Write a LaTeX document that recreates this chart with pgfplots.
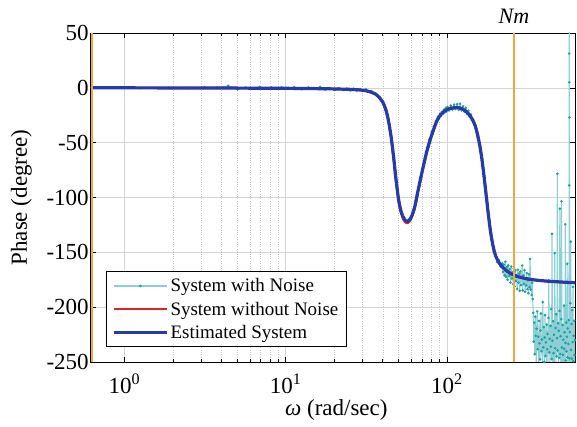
\documentclass[border=0pt]{standalone}
\usepackage{pgfplots}
\pgfplotsset{compat=1.18}
\usepackage{pgfplotstable}
\usepackage{fontspec}
\setmainfont{Liberation Serif}
\usetikzlibrary{calc}

\definecolor{noiseline}{RGB}{140,208,214}
\definecolor{noisemark}{RGB}{38,160,158}
\definecolor{estblue}{RGB}{38,58,168}
\definecolor{truered}{RGB}{222,36,40}
\definecolor{nmorange}{RGB}{240,168,58}
\definecolor{gridgray}{RGB}{212,212,212}

% estimated model phase (deg) vs frequency (rad/s)
\pgfplotstableread{
w phase
0.62 0
1 0
2 -0.1
5 -0.25
10 -0.45
15 -0.7
20 -1.0
25 -1.4
28 -1.8
30 -2.2
32 -2.9
34 -4.0
36 -5.6
38 -8.5
40 -13
41 -16.5
42 -21
43 -27
44 -35
45 -44
46 -55
47 -67
48 -80
49 -91
50 -101
51 -108
52 -113
53 -116.5
54 -119
55 -120.6
56 -121.4
57 -121.6
58 -121
59 -119.8
60 -118
61 -115.5
62 -112.5
63 -109
64 -104.5
65 -99.5
66 -94.5
67 -90
68 -85.5
70 -77
72.5 -67
75 -58
78 -49
80 -44
82 -39.5
84 -35
86 -31
88 -28
90 -25.8
93 -23.3
96 -21.5
100 -19.8
105 -18.7
110 -18.2
115 -18
120 -18.3
125 -19.3
130 -21
135 -23.2
140 -26
145 -29.8
150 -35
155 -43
160 -53
164 -63
168 -75
172 -88
176 -101
180 -114
184 -125.5
188 -135
192 -142.5
196 -148.5
200 -153
205 -156.5
212 -160.3
222 -163.8
235 -167
250 -169.6
270 -171.8
300 -173.6
330 -174.7
370 -175.6
420 -176.3
500 -177
560 -177.4
640 -177.8
}\estimated

% true system phase
\pgfplotstableread{
w phase
0.62 0
1 0
2 -0.1
5 -0.25
10 -0.45
15 -0.7
20 -1.0
25 -1.4
28 -1.8
30 -2.2
32 -2.9
34 -4.0
36 -5.7
38 -8.7
40 -13.3
41 -17
42 -21.5
43 -27.6
44 -35.7
45 -44.8
46 -56
47 -68
48 -81
49 -92.2
50 -102.3
51 -109.5
52 -114.6
53 -118.2
54 -120.8
55 -122.4
56 -123.2
57 -123.3
58 -122.6
59 -121.2
60 -119.3
61 -116.7
62 -113.6
63 -110
64 -105.4
65 -100.3
66 -95.2
67 -90.6
68 -86
70 -77.4
72.5 -67.3
75 -58.2
78 -49.2
80 -44.1
82 -39.6
84 -35.1
86 -31.1
88 -28.1
90 -25.9
93 -23.4
96 -21.6
100 -19.9
105 -18.8
110 -18.3
115 -18.1
120 -18.4
125 -19.4
130 -21.1
135 -23.3
140 -26.1
145 -29.9
150 -35.1
155 -43.1
160 -53.1
164 -63.1
168 -75.1
172 -88.1
176 -101.1
180 -114.1
184 -125.6
188 -135.1
192 -142.6
196 -148.6
200 -153.1
205 -156.6
212 -160.4
222 -163.9
235 -167.1
250 -169.7
270 -171.9
300 -173.7
330 -174.8
370 -175.7
420 -176.4
500 -177.1
560 -177.5
640 -177.9
}\truesys

% measured phase with noise
\pgfplotstableread{
w phase
0.628 0.3
1.257 -0.2
1.885 0.1
2.513 -0.3
3.142 0.4
3.770 0.2
4.398 1.8
5.027 -1.5
5.655 0.3
6.283 -0.4
6.912 0.9
7.540 -0.6
8.168 0.2
8.796 -0.8
9.425 0.5
10.05 -0.3
11.31 0.6
12.57 -1.2
13.82 0.4
15.08 -0.9
16.34 0.8
17.59 -1.7
18.85 -0.2
20.11 -1.9
21.36 -0.5
22.62 -2.1
23.88 -0.7
25.13 -2.3
26.39 -0.9
27.65 -2.4
28.90 -1.2
30.16 -2.5
31.42 -1.3
32.67 -3.4
33.93 -3.0
35.19 -5.3
36.44 -5.9
37.70 -8.7
38.96 -10.2
40.21 -14.8
41.47 -18.5
42.73 -25.8
43.98 -35.8
45.24 -46.5
46.50 -60.3
47.75 -77.5
49.01 -91.8
50.27 -103.5
51.52 -110.6
52.78 -115.1
54.04 -118.1
55.29 -121.4
56.55 -122.8
57.81 -121.9
59.06 -119.3
60.32 -117.1
61.58 -112.5
62.83 -110.9
64.09 -102.6
65.35 -98.2
66.60 -92.3
67.86 -85.9
69.12 -81.2
70.37 -74.7
71.63 -69.8
72.88 -66.3
74.14 -59.2
75.40 -54.4
76.65 -53.2
77.91 -47.1
79.17 -46.3
80.42 -40.1
81.68 -39.5
82.94 -35.2
84.19 -34.6
85.45 -30.3
86.71 -30.9
87.96 -26.5
89.22 -27.8
90.48 -23.9
91.73 -25.6
92.99 -22.1
94.25 -23.7
95.50 -20.3
96.76 -22.5
98.02 -18.6
99.27 -21.4
100.5 -17.5
103.0 -20.6
105.6 -16.2
108.1 -19.8
110.6 -15.4
113.1 -19.2
115.6 -15.0
118.1 -19.9
120.6 -14.6
123.2 -20.5
125.7 -16.8
128.2 -21.7
130.7 -18.3
133.2 -23.8
135.7 -20.9
138.2 -26.4
140.7 -24.3
143.3 -29.6
145.8 -31.2
148.3 -33.9
150 -34.2
155 -44.8
160 -52.1
165 -66.0
170 -80.6
175 -98.2
180 -112.7
185 -129.4
190 -138.6
195 -149.5
200 -152.3
205 -158.9
210 -157.2
215 -163.0
220 -160.1
222.5 -167.8
225 -161.2
227.5 -170.9
230 -158.6
232.5 -172.3
235 -163.4
237.5 -175.0
240 -161.9
242.5 -171.8
245 -165.2
247.5 -177.6
250 -163.0
252.5 -173.9
255 -168.1
257.5 -179.3
260 -164.7
262.5 -181.0
265 -166.5
267.5 -176.2
270 -170.8
272.5 -183.4
275 -165.9
277.5 -177.7
280 -169.3
282.5 -185.2
285 -167.4
287.5 -179.9
290 -172.6
292.5 -162.1
295 -184.7
297.5 -171.0
300 -178.8
302.5 -166.3
305 -186.0
307.5 -173.5
310 -180.2
312.5 -168.9
315 -183.6
317.5 -175.4
320 -187.3
322.5 -170.1
325 -181.7
327.5 -156.0
330 -183.9
332.5 -174.2
335 -189.0
337.5 -177.8
340 -192.5
342.5 -205.2
345 -231.4
347.5 -214.0
350 -242.8
352.5 -208.6
355 -226.1
357.5 -251.3
360 -219.7
362.5 -203.9
365 -238.4
367.5 -226.9
370 -258.2
372.5 -212.5
375 -233.0
377.5 -247.6
380 -221.3
382.5 -205.8
385 -240.1
387.5 -229.5
390 -262.0
393 -195.4
395.5 -236.7
398 -218.2
400.5 -249.9
403 -227.6
405.5 -207.3
408 -244.5
410.5 -232.1
413 -256.8
415.5 -215.9
418 -238.3
420.5 -224.4
423 -253.7
425.5 -209.8
428 -175.6
430.5 -241.2
433 -228.9
435.5 -263.5
438 -217.1
440.5 -236.0
443 -201.7
445.5 -247.3
448 -133.2
450.5 -230.6
453 -255.4
455.5 -212.8
458 -241.9
460.5 -225.2
463 -259.6
466 -150.8
468.5 -237.4
471 -219.0
473.5 -252.5
476 -206.4
478.5 -244.8
481 -228.3
483.5 -78.4
486 -239.5
488.5 -214.7
491 -258.9
493.5 -221.6
496 -246.2
498.5 -203.3
501 -110.2
503.5 -242.7
506 -226.5
508.5 -264.1
511 -210.9
513.5 -103.5
516 -236.8
518.5 -251.0
521 -216.3
523.5 -243.4
526 -229.7
528.5 -260.3
531 -198.6
533.5 -238.1
536 -222.9
538.5 -254.2
541 -124.4
543.5 -232.6
546 -248.7
548.5 -214.1
551 -240.3
553.5 -227.0
556 -160.5
558.5 -245.8
561 -219.4
563.5 -257.3
566 -233.5
568.5 -211.8
571 -251.6
572 31.2
572.6 -89.0
573.2 60.0
573.8 5.0
574.4 -27.0
575 -246.4
577.5 -222.7
580 -258.0
582.5 -196.4
585 -140.2
587.5 -238.9
590 -260.7
592.5 -215.3
595 -247.1
597.5 -202.6
600 -262.4
602.5 -231.8
605 -181.5
607.5 -249.3
610 -226.0
612.5 -265.0
615 -212.4
617.5 -243.7
620 -255.8
622 -230.1
}\measured

\begin{document}
\begin{tikzpicture}
\begin{axis}[
  scale only axis,
  width=484.1pt, height=329pt,
  xmode=log,
  xmin=0.62, xmax=622,
  ymin=-250, ymax=50,
  clip mode=individual,
  ytick={-250,-200,-150,-100,-50,0,50},
  xtick={1,10,100},
  xticklabels={10\textsuperscript{0},10\textsuperscript{1},10\textsuperscript{2}},
  /pgf/number format/assume math mode=true,
  tick align=inside,
  major tick length=5pt,
  minor tick length=3pt,
  tick style={black, line width=0.6pt},
  axis line style={black, line width=0.8pt},
  xmajorgrids, ymajorgrids, xminorgrids,
  major grid style={gridgray, line width=0.6pt},
  minor grid style={gray!45, dotted, line width=0.5pt},
  ticklabel style={font=\fontsize{23}{26}\selectfont},
  yticklabel style={inner sep=1pt, xshift=-1pt},
  xticklabel style={inner sep=0pt, yshift=-12pt},
  every axis y label/.style={at={(axis description cs:-0.1434,0.5)}, rotate=90, anchor=center},
  every axis x label/.style={at={(axis description cs:0.507,-0.164)}, anchor=base},
  label style={font=\fontsize{23}{26}\selectfont},
  ylabel={Phase (degree)},
  xlabel={\textit{ω} (rad/sec)},
  legend cell align=left,
  legend style={at={(axis description cs:0.0312,0.0456)}, anchor=south west,
    draw=black, line width=0.6pt, fill=white,
    font=\fontsize{19}{22}\selectfont,
    inner xsep=6pt, inner ysep=5pt, row sep=4.5pt},
  legend image code/.code={\draw[#1, mark repeat=2, mark phase=2]
    plot coordinates {(0pt,0pt) (26.5pt,0pt) (53pt,0pt)};},
]
\addplot[noiseline, line width=1.1pt, mark=*, mark size=0.7pt,
  mark options={noisemark, draw=noisemark, fill=noisemark}] table[x=w, y=phase] {\measured};
\addlegendentry{System with Noise}
\addplot[truered, line width=2.2pt] table[x=w, y=phase] {\truesys};
\addlegendentry{System without Noise}
\addplot[estblue, line width=3.2pt] table[x=w, y=phase] {\estimated};
\addlegendentry{Estimated System}
% frequency markers
\addplot[nmorange, line width=1.6pt, forget plot] coordinates {(0.6283,-250) (0.6283,50)};
\addplot[nmorange, line width=1.6pt, forget plot] coordinates {(260,-250) (260,50)};
\coordinate (nm) at (axis cs:260,50);
\coordinate (bl) at (rel axis cs:0,0);
\coordinate (tr) at (rel axis cs:1,1);
\end{axis}
\node[anchor=base, font=\fontsize{22}{24}\selectfont\itshape, yshift=9pt] at (nm) {Nm};
\pgfresetboundingbox
\path[use as bounding box] ($(bl)+(-90.9pt,-65pt)$) rectangle ($(tr)+(2pt,33pt)$);
\end{tikzpicture}
\end{document}
